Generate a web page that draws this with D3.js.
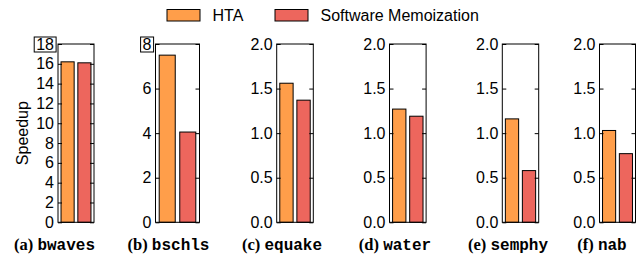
<!DOCTYPE html>
<html>
<head>
<meta charset="utf-8">
<script src="https://cdn.jsdelivr.net/npm/d3@7"></script>
<style>
  html, body { margin: 0; padding: 0; background: #fff; }
  svg { display: block; }
</style>
</head>
<body>
<div id="chart"></div>
<script>
// Speedup per benchmark, two series
const benchmarks = ["bwaves", "bschls", "equake", "water", "semphy", "nab"];
const panelLetters = ["a", "b", "c", "d", "e", "f"];
const seriesNames = ["HTA", "Software Memoization"];
const htaValues = [16.2, 7.5, 1.56, 1.27, 1.16, 1.03];
const swMemoValues = [16.1, 4.05, 1.37, 1.19, 0.58, 0.77];
const yMaxValues = [18, 8, 2, 2, 2, 2];
const yTickValues = [
    [0, 2, 4, 6, 8, 10, 12, 14, 16, 18],
    [0, 2, 4, 6, 8],
    [0, 0.5, 1.0, 1.5, 2.0],
    [0, 0.5, 1.0, 1.5, 2.0],
    [0, 0.5, 1.0, 1.5, 2.0],
    [0, 0.5, 1.0, 1.5, 2.0]
];
const boxedTop = [true, true, false, false, false, false];

const colors = ["#FF9E4A", "#ED665D"];

// layout of each panel (pixels)
const panelLeft = [58, 155.5, 276.7, 389.5, 502.3, 599.5];
const panelWidth = [36, 44, 36.6, 36.6, 36.4, 36];
const captionX = [54.5, 168.5, 282, 395, 508, 602];
const plotTop = 44, plotBottom = 222.3;

const width = 644, height = 259;
const svg = d3.select('#chart').append('svg')
    .attr('width', width)
    .attr('height', height)
    .attr('viewBox', `0 0 ${width} ${height}`);

const sansFont = "'Liberation Sans', Arial, Helvetica, sans-serif";

// Legend
const legendItems = [
    { name: seriesNames[0], color: colors[0], x: 167 },
    { name: seriesNames[1], color: colors[1], x: 275 }
];
const legend = svg.append('g').attr('class', 'legend');
legendItems.forEach(item => {
    legend.append('rect')
        .attr('x', item.x)
        .attr('y', 9.5)
        .attr('width', 33)
        .attr('height', 11.5)
        .attr('fill', item.color)
        .attr('stroke', '#000')
        .attr('stroke-width', 1);
    legend.append('text')
        .attr('x', item.x + 45.5)
        .attr('y', 21)
        .attr('font-family', sansFont)
        .attr('font-size', 16)
        .attr('fill', '#000')
        .text(item.name);
});

// y label
svg.append('text')
    .attr('transform', `translate(28, ${(plotTop + plotBottom) / 2}) rotate(-90)`)
    .attr('text-anchor', 'middle')
    .attr('font-family', sansFont)
    .attr('font-size', 16)
    .attr('fill', '#000')
    .text('Speedup');

benchmarks.forEach((bench, i) => {
    const w = panelWidth[i];
    const g = svg.append('g')
        .attr('class', 'panel')
        .attr('transform', `translate(${panelLeft[i]}, 0)`);

    const y = d3.scaleLinear()
        .domain([0, yMaxValues[i]])
        .range([plotBottom, plotTop]);

    const x = d3.scaleBand()
        .domain(seriesNames)
        .range([0, w])
        .paddingInner(0.22)
        .paddingOuter(0.18);

    const values = [htaValues[i], swMemoValues[i]];

    g.selectAll('rect.bar')
        .data(seriesNames)
        .enter()
        .append('rect')
        .attr('class', 'bar')
        .attr('x', d => x(d))
        .attr('width', x.bandwidth())
        .attr('y', (d, j) => y(values[j]))
        .attr('height', (d, j) => plotBottom - y(values[j]))
        .attr('fill', (d, j) => colors[j])
        .attr('stroke', '#000')
        .attr('stroke-width', 1);

    const fmt = yMaxValues[i] > 2 ? d3.format('d') : d3.format('.1f');

    const leftAxis = g.append('g')
        .call(d3.axisLeft(y)
            .tickValues(yTickValues[i])
            .tickFormat(fmt)
            .tickSizeInner(-4)
            .tickSizeOuter(0)
            .tickPadding(4));

    g.append('g')
        .attr('transform', `translate(${w}, 0)`)
        .call(d3.axisRight(y)
            .tickValues(yTickValues[i])
            .tickFormat('')
            .tickSizeInner(-4)
            .tickSizeOuter(0));

    g.selectAll('.domain').remove();
    g.selectAll('.tick line').attr('stroke', '#000');
    leftAxis.selectAll('text')
        .attr('font-family', sansFont)
        .attr('font-size', 16)
        .attr('fill', '#000');

    // frame
    g.append('rect')
        .attr('x', 0)
        .attr('y', plotTop)
        .attr('width', w)
        .attr('height', plotBottom - plotTop)
        .attr('fill', 'none')
        .attr('stroke', '#000')
        .attr('stroke-width', 1);

    // box around top tick label
    if (boxedTop[i]) {
        const topTick = leftAxis.selectAll('.tick').filter(d => d === yMaxValues[i]);
        const bb = topTick.select('text').node().getBBox();
        topTick.insert('rect', 'text')
            .attr('x', bb.x - 2)
            .attr('y', -7.5)
            .attr('width', bb.width + 4)
            .attr('height', 15)
            .attr('fill', '#fff')
            .attr('stroke', '#000')
            .attr('stroke-width', 1);
    }

    // caption
    const cap = svg.append('text')
        .attr('x', captionX[i])
        .attr('y', 250)
        .attr('text-anchor', 'middle')
        .attr('font-size', 16)
        .attr('font-weight', 'bold')
        .attr('fill', '#000');
    cap.append('tspan')
        .attr('font-family', "'Liberation Serif', 'Times New Roman', serif")
        .attr('font-size', 16.5)
        .text(`(${panelLetters[i]}) `);
    cap.append('tspan')
        .attr('font-family', "'Liberation Mono', 'DejaVu Sans Mono', monospace")
        .attr('font-size', 16)
        .text(bench);
});
</script>
</body>
</html>
